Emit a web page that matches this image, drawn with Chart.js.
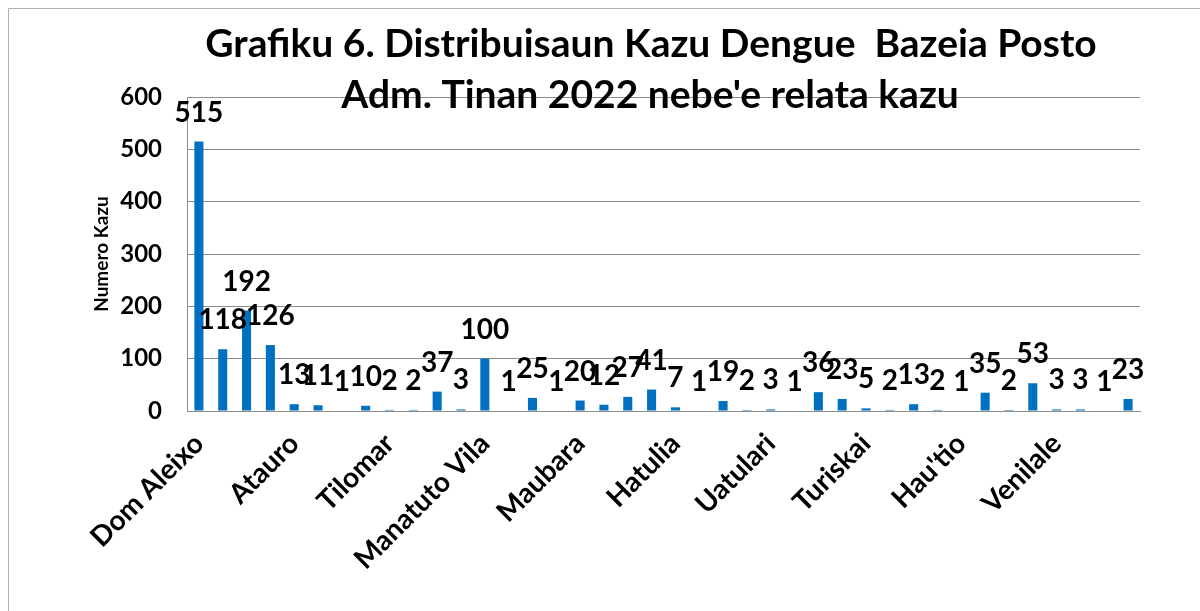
<!DOCTYPE html>
<html>
<head>
<meta charset="utf-8">
<script src="https://cdn.jsdelivr.net/npm/chart.js@4.4.1/dist/chart.umd.min.js"></script>
<style>
  html, body { margin: 0; padding: 0; background: #ffffff; }
  #wrap { width: 1200px; height: 611px; position: relative; }
</style>
</head>
<body>
<div id="wrap"><canvas id="c" width="1200" height="611"></canvas></div>
<script>
const titleLines = ["Grafiku 6. Distribuisaun Kazu Dengue  Bazeia Posto", "Adm. Tinan 2022 nebe'e relata kazu"];
const yAxisTitle = "Numero Kazu";
const categories = [
  "Dom Aleixo", "Cristo Rei", "Vera Cruz", "Nain Feto",
  "Atauro", "Metinaro", "Maukatar", "Suai",
  "Tilomar", "Fohorem", "Zumalai", "Laclubar",
  "Manatuto Vila", "Laleia", "Liquiça", "Bazartete",
  "Maubara", "Aileu Vila", "Remexio", "Ermera",
  "Hatulia", "Railaco", "Viqueque", "Ossu",
  "Uatulari", "Lacluta", "Same", "Alas",
  "Turiskai", "Fatuberliu", "Ainaro", "Maubisse",
  "Hau'tio", "Baucau", "Vemasse", "Baguia",
  "Venilale", "Quelicai", "Laga", "Lospalos"
];
const cases = [515, 118, 192, 126, 13, 11, 1, 10, 2, 2, 37, 3, 100, 1, 25, 1, 20, 12, 27, 41, 7, 1, 19, 2, 3, 1, 36, 23, 5, 2, 13, 2, 1, 35, 2, 53, 3, 3, 1, 23];
const yTicks = [0, 100, 200, 300, 400, 500, 600];

const FONT = "Lato, 'Open Sans', sans-serif";
const yTickFont = { family: FONT, size: 24, weight: 'bold' };

const framePlugin = {
  id: 'frame',
  beforeDraw(chart) {
    const ctx = chart.ctx;
    ctx.save();
    ctx.fillStyle = '#ffffff';
    ctx.fillRect(0, 0, chart.width, chart.height);
    ctx.strokeStyle = '#b0b0b0';
    ctx.lineWidth = 1;
    ctx.beginPath();
    ctx.moveTo(8.5, chart.height);
    ctx.lineTo(8.5, 8.5);
    ctx.lineTo(chart.width, 8.5);
    ctx.stroke();
    ctx.restore();
  }
};

const labelPlugin = {
  id: 'valueLabels',
  afterDatasetsDraw(chart) {
    const ctx = chart.ctx;
    const meta = chart.getDatasetMeta(0);
    ctx.save();
    ctx.font = "bold 28px " + FONT;
    ctx.fillStyle = '#000000';
    ctx.textAlign = 'center';
    ctx.textBaseline = 'middle';
    meta.data.forEach((bar, i) => {
      ctx.fillText(String(cases[i]), bar.x, bar.y - 29);
    });
    ctx.restore();
  }
};

const titlePlugin = {
  id: 'bigTitle',
  afterDraw(chart) {
    const ctx = chart.ctx;
    ctx.save();
    ctx.font = "bold 39px " + FONT;
    ctx.fillStyle = '#000000';
    ctx.textAlign = 'center';
    ctx.textBaseline = 'middle';
    ctx.fillText(titleLines[0], 651, 44);
    ctx.fillText(titleLines[1], 650, 95);
    ctx.restore();
  }
};

new Chart(document.getElementById('c'), {
  type: 'bar',
  data: {
    labels: categories,
    datasets: [{
      data: cases,
      backgroundColor: '#0070C0',
      borderWidth: 0,
      barPercentage: 0.38,
      categoryPercentage: 1.0
    }]
  },
  options: {
    responsive: false,
    animation: false,
    layout: { padding: { top: 97, right: 60, left: 0, bottom: 0 } },
    plugins: {
      legend: { display: false },
      title: { display: false },
      tooltip: { enabled: false }
    },
    scales: {
      x: {
        grid: { display: false, drawTicks: false },
        border: { display: true, color: '#8c8c8c', width: 1 },
        ticks: {
          autoSkip: false,
          maxRotation: 45,
          minRotation: 45,
          padding: 16,
          color: '#000000',
          font: { family: FONT, size: 28, weight: 'bold' },
          callback: function (value, index) {
            return index % 4 === 0 ? categories[index] : '';
          }
        },
        afterFit(scale) { scale.height = 200; }
      },
      y: {
        type: 'linear',
        min: 0,
        max: 600,
        grid: { color: '#8c8c8c', lineWidth: 1, drawTicks: false },
        border: { display: true, color: '#8c8c8c', width: 1 },
        ticks: {
          stepSize: 100,
          padding: 25,
          color: '#000000',
          font: () => yTickFont,
          callback: (v) => (yTicks.includes(v) ? String(v) : null)
        },
        title: {
          display: true,
          text: yAxisTitle,
          color: '#000000',
          font: { family: FONT, size: 19, weight: 'bold' },
          padding: { top: 90, bottom: 0 }
        },
        afterFit(scale) { scale.width = 187; }
      }
    }
  },
  plugins: [framePlugin, labelPlugin, titlePlugin]
});
</script>
</body>
</html>
